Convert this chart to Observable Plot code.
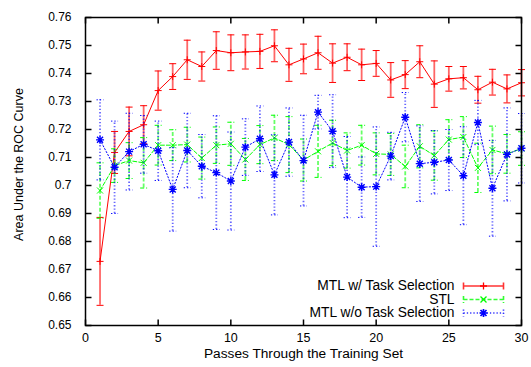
<!DOCTYPE html>
<html><head><meta charset="utf-8">
<script src="https://cdn.jsdelivr.net/npm/d3@7"></script>
<script src="https://cdn.jsdelivr.net/npm/@observablehq/plot@0.6"></script>
<style>body{margin:0;background:#fff;} #chart svg{display:block}</style>
</head><body><div id="chart"></div>
<script>
const passes = [1,2,3,4,5,6,7,8,9,10,11,12,13,14,15,16,17,18,19,20,21,22,23,24,25,26,27,28,29,30];
const seriesNames = ["MTL w/ Task Selection", "STL", "MTL w/o Task Selection"];
const seriesColors = ["#ff0000", "#00ff00", "#0000ff"];
const seriesDash = ["none", "4,2", "1.3,2"];

const redMean = [0.6729,0.7118,0.7193,0.7217,0.7339,0.7389,0.7449,0.7425,0.7482,0.7474,0.7477,0.7479,0.7499,0.7431,0.7452,0.7474,0.7437,0.7458,0.7431,0.7436,0.7377,0.7396,0.7442,0.7362,0.7381,0.7385,0.7342,0.7369,0.7345,0.7367];
const redErr  = [0.0157,0.0075,0.0087,0.0068,0.0070,0.0046,0.0070,0.0052,0.0067,0.0064,0.0061,0.0061,0.0057,0.0059,0.0053,0.0059,0.0069,0.0048,0.0056,0.0046,0.0062,0.0050,0.0057,0.0083,0.0044,0.0040,0.0048,0.0046,0.0050,0.0047];

const greenMean = [0.6982,0.7071,0.7089,0.7081,0.7144,0.7144,0.7146,0.7098,0.7144,0.7149,0.7093,0.7146,0.7170,0.7146,0.7091,0.7122,0.7152,0.7125,0.7144,0.7113,0.7111,0.7068,0.7140,0.7107,0.7164,0.7173,0.7063,0.7127,0.7113,0.7132];
const greenErr  = [0.0099,0.0060,0.0064,0.0090,0.0071,0.0055,0.0062,0.0075,0.0065,0.0077,0.0075,0.0068,0.0081,0.0100,0.0075,0.0093,0.0081,0.0063,0.0071,0.0075,0.0075,0.0076,0.0077,0.0088,0.0071,0.0073,0.0088,0.0085,0.0069,0.0060];

const blueMean = [0.7163,0.7065,0.7121,0.7147,0.7124,0.6986,0.7125,0.7069,0.7046,0.7016,0.7137,0.7167,0.7038,0.7155,0.7089,0.7262,0.7194,0.7030,0.6994,0.6996,0.7105,0.7244,0.7078,0.7083,0.7091,0.7035,0.7225,0.6990,0.7111,0.7133];
const blueErr  = [0.0143,0.0165,0.0137,0.0103,0.0106,0.0149,0.0133,0.0113,0.0203,0.0175,0.0101,0.0117,0.0143,0.0122,0.0162,0.0060,0.0130,0.0145,0.0108,0.0213,0.0085,0.0088,0.0135,0.0113,0.0109,0.0175,0.0079,0.0171,0.0166,0.0124];

const xTicks = [0,5,10,15,20,25,30];
const yTicks = [0.65,0.66,0.67,0.68,0.69,0.70,0.71,0.72,0.73,0.74,0.75,0.76];
const xLabel = "Passes Through the Training Set";
const yLabel = "Area Under the ROC Curve";

function rows(mean, err) {
  return passes.map((p, i) => ({x: p, y: mean[i], lo: mean[i] - err[i], hi: mean[i] + err[i]}));
}
const seriesData = [rows(redMean, redErr), rows(greenMean, greenErr), rows(blueMean, blueErr)];

const sym = f => ({draw(ctx) { f(ctx); }});
const plusS = sym(c => {c.moveTo(-3.5,0);c.lineTo(3.5,0);c.moveTo(0,-3.5);c.lineTo(0,3.5);});
const timesS = sym(c => {c.moveTo(-3,-3);c.lineTo(3,3);c.moveTo(-3,3);c.lineTo(3,-3);});
const starS = sym(c => {c.moveTo(-4,0);c.lineTo(4,0);c.moveTo(0,-4);c.lineTo(0,4);c.moveTo(-3,-3);c.lineTo(3,3);c.moveTo(-3,3);c.lineTo(3,-3);});
const markerSyms = [plusS, timesS, starS];
const markerWidth = [1, 1, 1.4];
const capS = sym(c => {c.moveTo(-3.5,0);c.lineTo(3.5,0);});
const tickUp = sym(c => {c.moveTo(0,0);c.lineTo(0,-6);});
const tickDown = sym(c => {c.moveTo(0,0);c.lineTo(0,6);});
const tickRight = sym(c => {c.moveTo(0,0);c.lineTo(6,0);});
const tickLeft = sym(c => {c.moveTo(0,0);c.lineTo(-6,0);});
const legendLine = sym(c => {c.moveTo(-20,0);c.lineTo(20,0);c.moveTo(-20,-3.5);c.lineTo(-20,3.5);c.moveTo(20,-3.5);c.lineTo(20,3.5);});
const legendDy = [-39.5, -26, -12.5];

const marks = [];
seriesData.forEach((data, i) => {
  const color = seriesColors[i];
  const dash = seriesDash[i];
  marks.push(Plot.ruleX(data, {x: "x", y1: "lo", y2: "hi", stroke: color, strokeWidth: 1.8, strokeOpacity: 0.6, strokeDasharray: dash}));
  marks.push(Plot.dot(data, {x: "x", y: "hi", symbol: capS, fill: "none", stroke: color, strokeWidth: 1, strokeDasharray: dash}));
  marks.push(Plot.dot(data, {x: "x", y: "lo", symbol: capS, fill: "none", stroke: color, strokeWidth: 1, strokeDasharray: dash}));
  marks.push(Plot.line(data, {x: "x", y: "y", stroke: color, strokeWidth: 1, strokeDasharray: dash}));
  marks.push(Plot.dot(data, {x: "x", y: "y", symbol: markerSyms[i], fill: "none", stroke: color, strokeWidth: markerWidth[i]}));
  // legend entry
  marks.push(Plot.text([seriesNames[i]], {text: d => d, frameAnchor: "bottom-right", dx: -67, dy: legendDy[i], textAnchor: "end", lineAnchor: "middle", fill: "black", fontSize: 13.8}));
  marks.push(Plot.dot([seriesNames[i]], {frameAnchor: "bottom-right", dx: -38, dy: legendDy[i], symbol: legendLine, fill: "none", stroke: color, strokeWidth: 1.6, strokeOpacity: 0.8, strokeDasharray: dash}));
  marks.push(Plot.dot([seriesNames[i]], {frameAnchor: "bottom-right", dx: -38, dy: legendDy[i], symbol: markerSyms[i], fill: "none", stroke: color, strokeWidth: markerWidth[i] + 0.3}));
});

const chart = Plot.plot({
  width: 531, height: 367,
  marginLeft: 85, marginRight: 10, marginTop: 17, marginBottom: 42,
  style: {fontFamily: "'Liberation Sans', Arial, sans-serif", fontSize: "12px", background: "white", color: "black"},
  x: {domain: [0, 30]},
  y: {domain: [0.65, 0.76]},
  marks: [
    Plot.axisX({ticks: xTicks, tickSize: 0, tickPadding: 7.5, label: null, fontSize: 12.5, tickFormat: d => String(d)}),
    Plot.axisY({ticks: yTicks, tickSize: 0, tickPadding: 14, label: null, fontSize: 12, tickFormat: d => String(+d.toFixed(2))}),
    Plot.dot(xTicks, {x: d => d, frameAnchor: "bottom", symbol: tickUp, stroke: "black", fill: "none"}),
    Plot.dot(xTicks, {x: d => d, frameAnchor: "top", symbol: tickDown, stroke: "black", fill: "none"}),
    Plot.dot(yTicks, {y: d => d, frameAnchor: "left", symbol: tickRight, stroke: "black", fill: "none"}),
    Plot.dot(yTicks, {y: d => d, frameAnchor: "right", symbol: tickLeft, stroke: "black", fill: "none"}),
    Plot.text([xLabel], {text: d => d, frameAnchor: "bottom", dy: 28, textAnchor: "middle", lineAnchor: "middle", fill: "black", fontSize: 13.7}),
    Plot.text([yLabel], {text: d => d, frameAnchor: "left", dx: -67, dy: -7, rotate: -90, textAnchor: "middle", lineAnchor: "middle", fill: "black", fontSize: 12.5}),
    ...marks,
    Plot.frame({stroke: "black", strokeWidth: 1.5})
  ]
});
document.getElementById("chart").appendChild(chart);
</script>
</body></html>
